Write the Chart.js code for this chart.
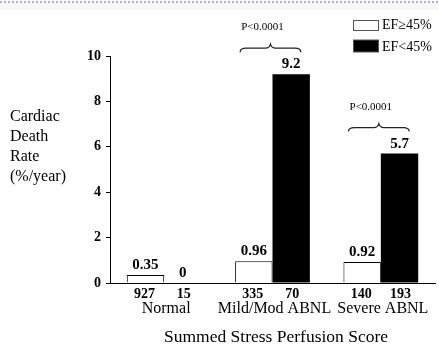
<!DOCTYPE html>
<html>
<head>
<meta charset="utf-8">
<script src="https://cdn.jsdelivr.net/npm/chart.js@4/dist/chart.umd.min.js"></script>
<style>
html,body{margin:0;padding:0;background:#fff;}
#wrap{width:439px;height:349px;position:relative;}
</style>
</head>
<body>
<div id="wrap"><canvas id="c" width="439" height="349"></canvas></div>
<script>
const categories = ['Normal', 'Mild/Mod ABNL', 'Severe ABNL'];
const seriesNames = ['EF\u226545%', 'EF<45%'];
const efHigh = [0.35, 0.96, 0.92];
const efLow = [0, 9.2, 5.7];
const countsHigh = [927, 335, 140];
const countsLow = [15, 70, 193];
const pValues = [null, 'P<0.0001', 'P<0.0001'];
const yTitleLines = ['Cardiac', 'Death', 'Rate', '(%/year)'];
const xTitle = 'Summed Stress Perfusion Score';
const yTicks = [0, 2, 4, 6, 8, 10];

const SERIF = '"Liberation Serif", "Times New Roman", serif';

function brace(ctx, x0, x1, y) {
  const xc = (x0 + x1) / 2;
  ctx.beginPath();
  ctx.moveTo(x0, y + 5);
  ctx.quadraticCurveTo(x0, y + 1, x0 + 6, y + 1);
  ctx.lineTo(xc - 5, y + 1);
  ctx.quadraticCurveTo(xc - 1, y + 1, xc, y - 3);
  ctx.quadraticCurveTo(xc + 1, y + 1, xc + 5, y + 1);
  ctx.lineTo(x1 - 6, y + 1);
  ctx.quadraticCurveTo(x1, y + 1, x1, y + 5);
  ctx.stroke();
}

const decor = {
  id: 'decor',
  beforeDraw(chart) {
    const ctx = chart.ctx;
    ctx.save();
    ctx.fillStyle = '#ffffff';
    ctx.fillRect(0, 0, chart.width, chart.height);
    ctx.fillStyle = '#f6f6f6';
    ctx.fillRect(0, 3, chart.width, 7);
    ctx.fillStyle = '#a9addb';
    for (let x = 0; x < chart.width; x += 4) ctx.fillRect(x, 1, 2, 2);
    ctx.restore();
  },
  afterDraw(chart) {
    const ctx = chart.ctx;
    const xs = chart.scales.x;
    const m0 = chart.getDatasetMeta(0).data;
    const m1 = chart.getDatasetMeta(1).data;
    ctx.save();
    ctx.fillStyle = '#000';
    ctx.strokeStyle = '#222';
    // y title
    ctx.font = '16px ' + SERIF;
    ctx.textAlign = 'left';
    ctx.textBaseline = 'middle';
    yTitleLines.forEach((t, i) => ctx.fillText(t, 10, 117 + i * 20));
    // value labels
    ctx.font = 'bold 15px ' + SERIF;
    ctx.textAlign = 'center';
    ctx.textBaseline = 'alphabetic';
    [m0, m1].forEach((els, d) => {
      const vals = chart.data.datasets[d].data;
      els.forEach((el, i) => ctx.fillText(String(vals[i]), el.x, el.y - 6));
    });
    // counts
    ctx.font = 'bold 14px ' + SERIF;
    ctx.textBaseline = 'middle';
    m0.forEach((el, i) => ctx.fillText(String(countsHigh[i]), el.x - 1, 294));
    m1.forEach((el, i) => ctx.fillText(String(countsLow[i]), el.x + 1, 294));
    // category labels
    ctx.font = '16px ' + SERIF;
    categories.forEach((c, i) => ctx.fillText(c, xs.getPixelForValue(i) + 2, 309));
    // axis title
    ctx.font = '17.5px ' + SERIF;
    ctx.fillText(xTitle, 276, 337);
    // p-values and braces
    ctx.lineWidth = 1.2;
    pValues.forEach((p, i) => {
      if (!p) return;
      const a = m0[i], b = m1[i];
      const x0 = a.x - a.width / 2 + 5;
      const x1 = b.x + b.width / 2 - 9;
      const top = b.y;
      ctx.font = '11px ' + SERIF;
      ctx.textAlign = 'center';
      ctx.fillText(p, (x0 + x1) / 2 - 8, top - 47);
      brace(ctx, x0, x1, top - 27);
    });
    // legend
    const ds = chart.data.datasets;
    ctx.font = '14px ' + SERIF;
    ctx.textAlign = 'left';
    const boxes = [[20.5, 10], [40, 12]];
    ds.forEach((d, i) => {
      const [by, bh] = boxes[i];
      ctx.fillStyle = d.backgroundColor;
      ctx.fillRect(353, by, 26, bh);
      ctx.strokeStyle = '#555';
      ctx.lineWidth = 1;
      ctx.strokeRect(353.5, by, 25, bh);
      ctx.fillStyle = '#000';
      ctx.fillText(d.label, 382, i === 0 ? 25.5 : 47);
    });
    ctx.restore();
  }
};

new Chart(document.getElementById('c'), {
  type: 'bar',
  data: {
    labels: categories,
    datasets: [
      { label: seriesNames[0], data: efHigh, backgroundColor: '#ffffff', borderColor: '#000', borderWidth: 1, categoryPercentage: 0.69, barPercentage: 1 },
      { label: seriesNames[1], data: efLow, backgroundColor: '#000000', borderColor: '#000', borderWidth: 0, categoryPercentage: 0.69, barPercentage: 1 }
    ]
  },
  options: {
    responsive: false,
    devicePixelRatio: 1,
    animation: false,
    layout: { padding: { left: 0, right: 4, top: 56, bottom: 66 } },
    plugins: { legend: { display: false }, tooltip: { enabled: false } },
    scales: {
      x: {
        grid: { display: false },
        border: { display: true, color: '#000', width: 1 },
        ticks: { display: false },
        afterFit(s) { s.height = 0; }
      },
      y: {
        min: 0, max: 10,
        afterBuildTicks(s) { s.ticks = yTicks.map(v => ({ value: v })); },
        ticks: { color: '#000', font: { family: SERIF, size: 14, weight: 'bold' }, padding: 5 },
        grid: { drawOnChartArea: false, drawTicks: true, tickLength: 4, color: '#000' },
        border: { display: true, color: '#000', width: 1 },
        afterFit(s) { s.width = 110; }
      }
    }
  },
  plugins: [decor]
});
</script>
</body>
</html>
